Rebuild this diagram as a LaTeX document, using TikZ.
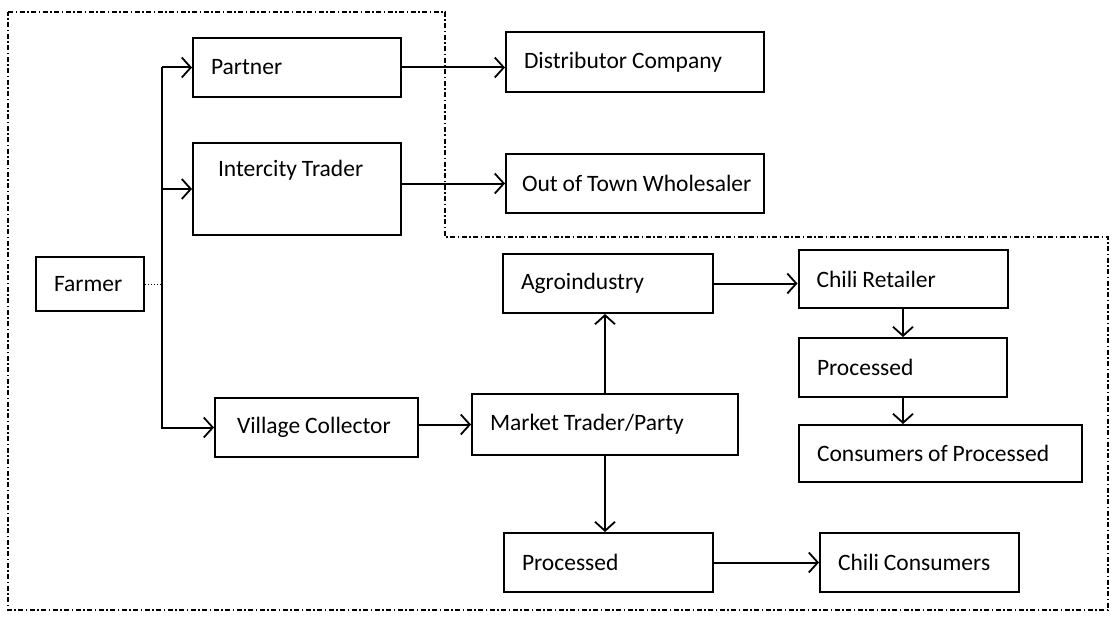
\documentclass[tikz,border=0pt]{standalone}
\usepackage{fontspec}
\setmainfont{Carlito}
\usetikzlibrary{arrows.meta}
\begin{document}
\begin{tikzpicture}[x=1pt, y=-1pt,
  font=\fontsize{23.5}{28}\selectfont,
  box/.style={draw, line width=2pt, inner xsep=18pt, inner ysep=0pt, align=left,
    execute at begin node={\spaceskip=0.21em\relax}},
  link/.style={line width=2pt, -{Straight Barb[length=9pt,width=20pt,line width=1.8pt]}},
  border/.style={line width=1.2pt, dash pattern=on 5pt off 2.5pt on 1.5pt off 2.5pt}]
\useasboundingbox (0,0) rectangle (1112,618);
% outer boundary
\draw[border] (8,12) -- (445,12) -- (445,237) -- (1108,237) -- (1108,610) -- (8,610) -- cycle;
% boxes
\node[box, text width=72pt, minimum height=54pt] (farmer) at (90,284) {Farmer};
\node[box, text width=172pt, minimum height=59pt] (partner) at (297,67.5) {Partner};
\node[box, text width=158pt, minimum height=92pt, inner xsep=25pt] (intercity) at (297,189) {Intercity Trader\\[14pt]~};
\node[box, text width=222pt, minimum height=60pt] (distributor) at (635,62) {Distributor Company};
\node[box, text width=226pt, minimum height=59pt, inner xsep=16pt] (wholesaler) at (635,183.5) {\mbox{Out of Town Wholesaler}};
\node[box, text width=159pt, minimum height=59pt, inner xsep=22pt] (collector) at (316.5,427.5) {\mbox{Village Collector}};
\node[box, text width=230pt, minimum height=61pt] (market) at (605,424.5) {Market Trader/Party};
\node[box, text width=174pt, minimum height=59pt] (agro) at (608,283.5) {Agroindustry};
\node[box, text width=173pt, minimum height=58pt] (retailer) at (903,279) {Chili Retailer};
\node[box, text width=172pt, minimum height=59pt] (retailproc) at (903,367.5) {Processed};
\node[box, text width=247pt, minimum height=57pt] (consumers) at (940.5,453.5) {\mbox{Consumers of Processed}};
\node[box, text width=173pt, minimum height=59pt] (marketproc) at (608.5,562.5) {Processed};
\node[box, text width=163pt, minimum height=59pt] (chiliconsumers) at (919.5,562.5) {Chili Consumers};
% farmer branches
\coordinate (bus) at (162,284);
\draw[line width=1pt, dotted] (farmer.east) -- (bus);
\draw[link] (bus |- partner.west) -- (partner.west);
\draw[link] (bus |- intercity.west) -- (intercity.west);
\draw[link] (bus |- partner.west) -- (bus |- collector.west) -- (collector.west);
% flows
\draw[link] (partner.east) -- (partner.east -| distributor.west);
\draw[link] (wholesaler.west -| intercity.east) -- (wholesaler.west);
\draw[link] (market.west -| collector.east) -- (market.west);
\draw[link] (market.north) -- (market.north |- agro.south);
\draw[link] (market.south) -- (market.south |- marketproc.north);
\draw[link] (agro.east) -- (agro.east -| retailer.west);
\draw[link] (retailer.south) -- (retailproc.north);
\draw[link] (retailproc.south) -- (retailproc.south |- consumers.north);
\draw[link] (marketproc.east) -- (chiliconsumers.west);
\end{tikzpicture}
\end{document}
